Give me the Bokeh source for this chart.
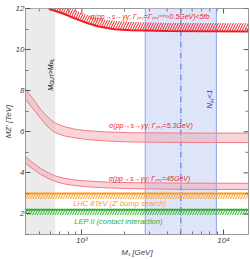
import numpy as np
from bokeh.plotting import figure
from bokeh.models import Range1d, FixedTicker
from bokeh.embed import file_html
from bokeh.resources import INLINE
from bokeh.core.properties import value

# ---------------- data ----------------
x_limits = [400, 15000]
y_limits = [1, 12]

gut_region = [400, 650]          # M_GUT > M_PL excluded
nh_region = [2800, 8900]         # N_H < 1 region
nh_center = 5000                 # dash-dot line

# sigma(pp->s->gg) < 5fb, Gamma_tot = Gamma_min ~ 0.5 GeV
ms_top = [582, 650, 760, 860, 970, 1100, 1290, 1500, 1700, 2200, 4000, 15000]
mz_top = [12.0, 11.88, 11.72, 11.56, 11.42, 11.28, 11.14, 11.05, 10.99, 10.94, 10.9, 10.88]

# Gamma_tot = 5.3 GeV band
ms_mid = [400, 430, 470, 510, 555, 600, 650, 750, 900, 1100, 1500, 2300, 5000, 15000]
mz_mid_hi = [8.08, 7.8, 7.45, 7.1, 6.83, 6.6, 6.42, 6.25, 6.12, 6.05, 5.99, 5.95, 5.94, 5.93]
mz_mid_lo = [7.6, 7.3, 6.98, 6.65, 6.35, 6.12, 5.95, 5.8, 5.7, 5.62, 5.55, 5.5, 5.48, 5.47]

# Gamma_tot = 45 GeV band
ms_low = [400, 430, 470, 510, 555, 600, 650, 750, 900, 1100, 1500, 2300, 5000, 15000]
mz_low_hi = [4.8, 4.6, 4.4, 4.22, 4.08, 3.95, 3.85, 3.74, 3.65, 3.6, 3.55, 3.52, 3.5, 3.49]
mz_low_lo = [4.48, 4.3, 4.1, 3.93, 3.8, 3.68, 3.58, 3.46, 3.38, 3.32, 3.27, 3.23, 3.2, 3.19]

lhc_limit = 3.0   # LHC 8TeV Z' bump search
lep_limit = 2.2   # LEP II contact interaction

x_ticks = [1000, 10000]
x_tick_labels = ["10³", "10⁴"]
y_ticks = [2, 4, 6, 8, 10, 12]

# ---------------- styles ----------------
FONT = value("Liberation Sans")
RED = "#ee1c24"
PINK_FILL = "#f09aa4"
PINK_LINE = "#f27a86"
ORANGE = "#ff9a1f"
GREEN = "#2fae2f"
BLUE_TXT = "#2035d8"
TICK = "#555555"

p = figure(width=250, height=259, x_axis_type="log",
           x_range=Range1d(*x_limits), y_range=Range1d(*y_limits),
           output_backend="svg", toolbar_location=None,
           min_border_left=0, min_border_right=2, min_border_top=8,
           min_border_bottom=0)
p.grid.visible = False
p.outline_line_color = "#9a9a9a"
p.background_fill_color = "white"

# regions
p.quad(left=[gut_region[0]], right=[gut_region[1]],
       bottom=[y_limits[0]], top=[y_limits[1]],
       fill_color="#ebebeb", line_color=None)
p.quad(left=[nh_region[0]], right=[nh_region[1]],
       bottom=[y_limits[0]], top=[y_limits[1]],
       fill_color="#dfe5f9", line_color=None)
p.quad(left=[nh_region[0]], right=[nh_region[1]],
       bottom=[y_limits[0]], top=[y_limits[1]],
       fill_color="white", fill_alpha=0, line_color=None,
       hatch_pattern="x", hatch_color="white", hatch_alpha=0.35,
       hatch_scale=40, hatch_weight=0.6)
for xv in nh_region:
    p.line([xv, xv], y_limits, line_color="#8fa3ea", line_width=1)
p.line([nh_center, nh_center], y_limits, line_color="#4a6ae0",
       line_width=1, line_dash="6 2 1 2")

# pink bands
for xs, hi, lo in [(ms_mid, mz_mid_hi, mz_mid_lo), (ms_low, mz_low_hi, mz_low_lo)]:
    p.varea(x=xs, y1=lo, y2=hi, fill_color=PINK_FILL, fill_alpha=0.42)
    p.line(xs, hi, line_color=PINK_LINE, line_width=1)
    p.line(xs, lo, line_color=PINK_LINE, line_width=1)

# top hatched limit
top_arr = np.array(mz_top)
p.varea(x=ms_top, y1=top_arr, y2=top_arr + 0.4, fill_alpha=0,
        hatch_pattern="/", hatch_color=RED, hatch_scale=5, hatch_weight=1)
p.line(ms_top, mz_top, line_color=RED, line_width=2)

# LHC
p.varea(x=x_limits, y1=[lhc_limit - 0.27] * 2, y2=[lhc_limit] * 2, fill_alpha=0,
        hatch_pattern="/", hatch_color=ORANGE, hatch_scale=5, hatch_weight=1)
p.line(x_limits, [lhc_limit] * 2, line_color=ORANGE, line_width=2)
# LEP
p.varea(x=x_limits, y1=[lep_limit - 0.25] * 2, y2=[lep_limit] * 2, fill_alpha=0,
        hatch_pattern="/", hatch_color=GREEN, hatch_scale=5, hatch_weight=1)
p.line(x_limits, [lep_limit] * 2, line_color=GREEN, line_width=2)

# labels
def lab(x, y, t, color, size="7px"):
    p.text(x=[x], y=[y], text=[t], text_color=color, text_font=FONT,
           text_font_style="italic", text_font_size=size,
           text_align="center", text_baseline="middle")

lab(3020, 11.63, "σ(pp→s→γγ; Γₜₒₜ=Γₜₒₜᵐⁱⁿ≈0.5GeV)<5fb", RED)
lab(3070, 6.3, "σ(pp→s→γγ; Γₜₒₜ=5.3GeV)", RED)
lab(3000, 3.75, "σ(pp→s→γγ; Γₜₒₜ=45GeV)", RED)
lab(1845, 2.49, "LHC 8TeV (Z′ bump search)", ORANGE, "7.5px")
lab(1815, 1.62, "LEP II (contact interaction)", GREEN, "7.5px")

def vlab(x, y, segs, color):
    off = 0.0
    for t, size, sub, w in segs:
        p.text(x=[x], y=[y], text=[t], text_color=color, text_font=FONT,
               text_font_style="italic", text_font_size=f"{size}px",
               text_align="left", text_baseline="middle", angle=np.pi / 2,
               y_offset=-off, x_offset=(1.8 if sub else 0))
        off += w * size

vlab(601, 8.0, [("M", 7, False, 0.833), ("GUT", 5, True, 2.111),
                (">M", 7, False, 1.417), ("PL", 5, True, 1.223)], "black")
vlab(8010, 7.12, [("N", 8, False, 0.722), ("H", 6, True, 0.722),
                  ("<1", 8, False, 1.14)], BLUE_TXT)

# frame ticks on right and top (inward)
x_minor = [m * 10 ** e for e in (2, 3, 4) for m in range(2, 10)
           if x_limits[0] < m * 10 ** e < x_limits[1]]
y_minor = [1, 3, 5, 7, 9, 11]
p.ray(x=[x_limits[1]] * len(y_ticks), y=y_ticks, length=5, angle=np.pi,
      length_units="screen", line_color=TICK, line_width=1)
p.ray(x=[x_limits[1]] * len(y_minor), y=y_minor, length=3, angle=np.pi,
      length_units="screen", line_color="#777777", line_width=1)
p.ray(x=x_ticks, y=[y_limits[1]] * len(x_ticks), length=5, angle=-np.pi / 2,
      length_units="screen", line_color=TICK, line_width=1)
p.ray(x=x_minor, y=[y_limits[1]] * len(x_minor), length=3, angle=-np.pi / 2,
      length_units="screen", line_color="#777777", line_width=1)

# axes
def style_axis(ax):
    ax.axis_line_color = "#9a9a9a"
    ax.major_tick_line_color = TICK
    ax.minor_tick_line_color = "#777777"
    ax.major_tick_in = 5
    ax.major_tick_out = 0
    ax.minor_tick_in = 3
    ax.minor_tick_out = 0
    ax.major_label_text_font = "Liberation Sans"
    ax.major_label_text_font_style = "italic"
    ax.major_label_text_color = "#444444"
    ax.major_label_text_font_size = "8px"
    ax.axis_label_text_font = "Liberation Sans"
    ax.axis_label_text_font_style = "italic"
    ax.axis_label_text_color = "#444444"
    ax.axis_label_text_font_size = "8px"
    ax.axis_label_standoff = 0
    ax.major_label_standoff = 1

p.xaxis.ticker = FixedTicker(ticks=x_ticks, minor_ticks=x_minor)
p.xaxis.major_label_overrides = dict(zip(x_ticks, x_tick_labels))
p.xaxis.axis_label = "Mₛ [GeV]"
p.yaxis.ticker = FixedTicker(ticks=y_ticks, minor_ticks=y_minor)
p.yaxis.axis_label = "MZ′ [TeV]"
style_axis(p.xaxis[0])
style_axis(p.yaxis[0])

open("out.html", "w").write(file_html(p, INLINE))
